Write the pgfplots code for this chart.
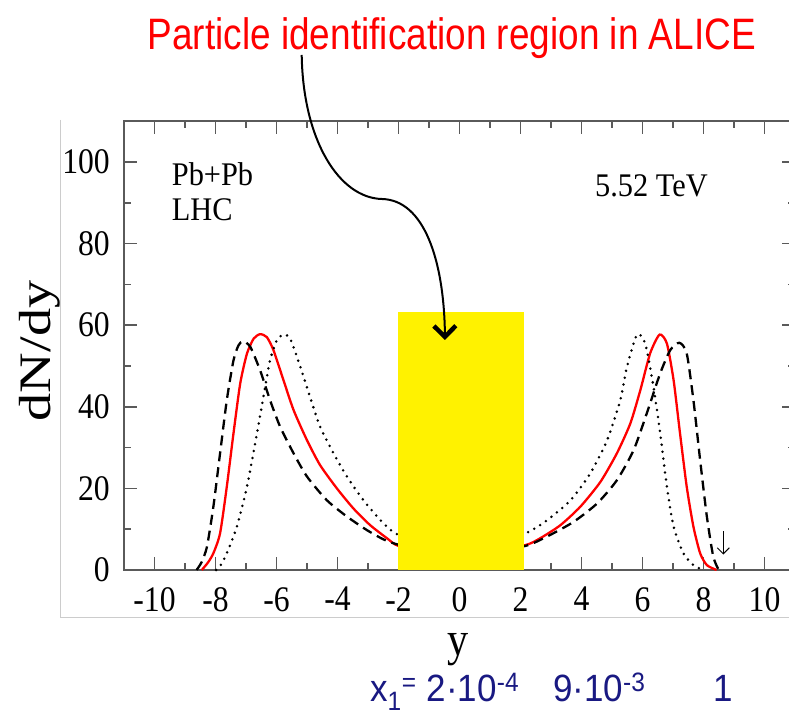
\documentclass[border=0pt]{standalone}
\usepackage{pgfplots}
\pgfplotsset{compat=1.18}
\usepackage{fontspec}
\usetikzlibrary{arrows.meta}
\setmainfont{Liberation Serif}[FakeStretch=0.88]
\newfontfamily\notefont{Liberation Serif}[FakeStretch=0.92]
\newfontfamily\titlefont{Liberation Sans}[FakeStretch=0.84]
\newfontfamily\bottomfont{Liberation Sans}[FakeStretch=0.92]
\newfontfamily\labelfont{Liberation Serif}[FakeStretch=1.25]
\definecolor{navy}{RGB}{25,25,130}
\definecolor{framegray}{RGB}{90,90,90}

\begin{document}
\begin{tikzpicture}
\begin{axis}[
  at={(0,0)}, anchor=south west,
  scale only axis, width=671pt, height=448.8pt,
  xmin=-11, xmax=11, ymin=0, ymax=110,
  xtick={-10,-8,...,10}, ytick={0,20,...,100},
  minor x tick num=1, minor y tick num=1,
  tick align=inside, tick pos=both,
  major tick length=12.7pt, minor tick length=6.7pt,
  axis line style={framegray, line width=1.6pt},
  tick style={framegray, line width=1.5pt},
  ticklabel style={font=\fontsize{36}{36}\selectfont, inner sep=0pt},
  xticklabel style={yshift=-17pt},
  yticklabel style={xshift=-14pt},
  /pgf/number format/assume math mode=true,
  clip=false,
]
% red solid
\addplot[red, line width=2.3pt, smooth, tension=0.4] coordinates {
(-8.45,0)(-8.25,1.8)(-8.07,4.1)(-7.85,9)(-7.63,20.4)(-7.41,33.5)(-7.19,45.7)
(-6.97,53)(-6.75,56.7)(-6.54,57.8)(-6.32,57.1)(-6.10,53.9)(-5.77,46.5)
(-5.44,39.2)(-5.0,31.8)(-4.57,25.7)(-4.02,20)(-3.48,15.1)(-2.93,11)
(-2.38,7.8)(-2,5.9)(-1,4.9)(0,4.6)(1,4.9)(2.16,6.1)(2.65,7.8)(3.31,11)
(3.96,15.5)(4.62,21.6)(5.16,28.6)(5.60,35.9)(5.93,44.1)(6.25,53.1)
(6.56,57.7)(6.80,55.5)(7.02,46.5)(7.23,33.5)(7.45,20.4)(7.67,10.6)
(7.89,4.1)(8.11,1.2)(8.43,0)};
% black dashed
\addplot[black, line width=2.3pt, dash pattern=on 10pt off 6pt, smooth, tension=0.4] coordinates {
(-8.62,0)(-8.45,2)(-8.28,5.7)(-8.07,15.5)(-7.85,28.6)(-7.63,41.6)(-7.41,51.4)
(-7.25,55)(-7.10,56.1)(-6.86,54.7)(-6.54,49)(-6.21,41.6)(-5.88,35.1)
(-5.44,28.6)(-5.0,22.9)(-4.35,17.1)(-3.69,13.1)(-3.04,9.8)(-2.49,7.5)
(-2,6.2)(-1,5.0)(0,4.7)(1,5.0)(2.16,5.9)(2.87,8.2)(3.74,11.8)(4.51,16.3)
(5.16,22)(5.71,29.4)(6.14,38.4)(6.58,48.2)(6.91,53.9)(7.21,55.7)
(7.45,53.1)(7.67,41.6)(7.89,26.9)(8.11,13.1)(8.32,3.3)(8.5,0)};
% black dotted
\addplot[black, line width=2.8pt, dash pattern=on 0pt off 7pt, line cap=round, smooth, tension=0.4] coordinates {
(-7.98,0)(-7.8,1.5)(-7.63,4.1)(-7.30,10.6)(-6.97,20.4)(-6.64,33.5)
(-6.43,42.4)(-6.21,51.4)(-5.99,56.3)(-5.77,57.7)(-5.55,56.7)(-5.22,49.8)
(-4.90,42.4)(-4.57,35.1)(-4.13,28.6)(-3.69,22.9)(-3.15,17.1)(-2.49,11.4)
(-2,8.6)(-1,7.2)(0,6.9)(1,7.2)(2.16,9)(2.87,12.2)(3.64,17.1)(4.29,23.7)
(4.84,31.8)(5.27,41.6)(5.49,49.8)(5.82,57.7)(6.09,55.5)(6.36,44.9)
(6.58,33.5)(6.80,20.4)(7.02,10.6)(7.34,4.1)(7.67,1.2)(8.0,0)};
% ALICE acceptance band
\addplot[draw=none, fill=yellow] coordinates {(-2.03,63.2) (2.12,63.2)} \closedcycle;
\draw[black, line width=1pt, -{Straight Barb[length=6pt, width=12pt]}]
  (axis cs:8.65,9.5) -- (axis cs:8.65,3.8);
\end{axis}

\node[rotate=90, font=\labelfont\fontsize{45}{45}\selectfont] at (-84pt,219pt) {dN/dy};
\node[anchor=base, font=\fontsize{48}{48}\selectfont] at (334pt,-85pt) {y};
\node[anchor=base, text=red, font=\titlefont\fontsize{44}{44}\selectfont]
  at (327.8pt,520.7pt) {Particle identification region in ALICE};
\node[anchor=base west, inner sep=0pt, font=\notefont\fontsize{33}{33}\selectfont] at (47.7pt,384pt) {Pb+Pb};
\node[anchor=base west, inner sep=0pt, font=\notefont\fontsize{33}{33}\selectfont] at (47.7pt,349.3pt) {LHC};
\node[anchor=base west, inner sep=0pt, font=\notefont\fontsize{33}{33}\selectfont] at (471pt,373.3pt) {5.52 TeV};

\begin{scope}[text=navy, font=\bottomfont\fontsize{38}{38}\selectfont]
\node[anchor=base west, inner sep=0pt] at (246pt,-131pt) {x\textsubscript{1}\textsuperscript{=}};
\node[anchor=base west, inner sep=0pt] at (302.7pt,-131pt) {2·10\textsuperscript{-4}};
\node[anchor=base west, inner sep=0pt] at (429pt,-131pt) {9·10\textsuperscript{-3}};
\node[anchor=base west, inner sep=0pt] at (589pt,-131pt) {1};
\end{scope}

\draw[line width=2pt, -{Straight Barb[length=11pt, width=22pt, line width=4.5pt]}]
  (177.7pt,515pt) .. controls (179pt,430pt) and (215pt,372pt) .. (258pt,371pt)
  .. controls (300pt,370pt) and (320pt,310pt) .. (321pt,230pt);
\draw[black!20, line width=0.8pt] (-64pt,450pt) -- (-64pt,-47pt) -- (665pt,-47pt);

\pgfresetboundingbox
\useasboundingbox (-124pt,-148pt) rectangle (665pt,570pt);
\end{tikzpicture}
\end{document}
